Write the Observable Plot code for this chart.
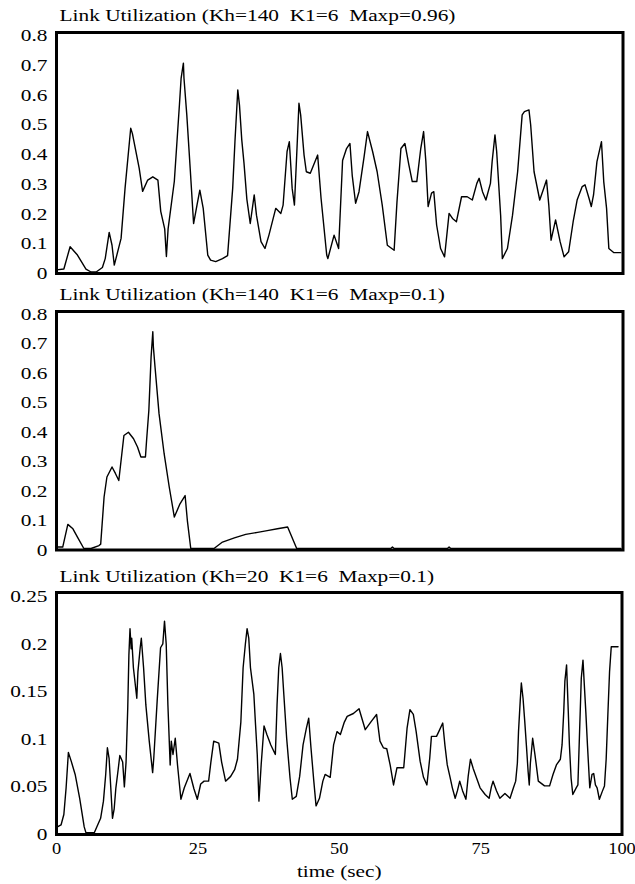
<!DOCTYPE html>
<html><head><meta charset="utf-8">
<script src="https://cdn.jsdelivr.net/npm/d3@7"></script>
<script src="https://cdn.jsdelivr.net/npm/@observablehq/plot@0.6"></script>
<style>
body{margin:0;background:#fff;}
svg{display:block;overflow:visible;}
svg text{white-space:pre;}
</style></head><body><div id="chart"></div>
<script>
const titles = [
  "Link Utilization (Kh=140  K1=6  Maxp=0.96)",
  "Link Utilization (Kh=140  K1=6  Maxp=0.1)",
  "Link Utilization (Kh=20  K1=6  Maxp=0.1)"
];
const xLabel = "time (sec)";
const xTicks = [0, 25, 50, 75, 100];
const yTicksA = [0, 0.1, 0.2, 0.3, 0.4, 0.5, 0.6, 0.7, 0.8];
const yTicksB = [0, 0.05, 0.1, 0.15, 0.2, 0.25];

const t1 = [0,1.3,2.4,3.7,5.2,6.1,7.0,8.1,8.6,9.3,9.8,10.2,11.4,12.1,13.1,13.4,14.6,15.2,16.1,17.0,17.9,18.4,19.1,19.4,19.7,20.8,21.7,22.0,22.4,22.5,23.0,23.6,24.2,24.8,25.3,25.9,26.7,27.2,28.1,29.3,30.2,31.1,31.5,32.0,32.3,32.7,33.1,33.6,34.2,34.9,35.3,36.1,36.8,37.5,38.7,39.6,40.0,40.7,41.1,41.6,42.0,42.4,42.8,43.1,43.7,44.1,44.8,46.1,46.7,47.7,47.9,49.0,49.8,50.5,51.2,51.8,52.2,52.8,53.4,54.3,54.9,55.8,56.6,57.5,58.4,59.6,60.1,60.8,61.5,62.2,62.8,63.6,64.3,64.8,65.2,65.6,66.2,66.6,67.1,67.8,68.5,69.3,69.9,70.6,71.5,72.5,73.4,74.2,74.6,75.2,75.8,76.6,76.9,77.4,77.7,78.4,78.7,79.6,80.5,81.4,82.2,82.6,83.4,83.7,84.3,85.3,86.0,86.5,86.9,87.3,88.1,88.9,89.6,90.4,91.2,91.9,92.8,93.3,94.0,94.4,94.8,95.4,96.2,96.6,97.1,97.5,98.4,99.6];
const u1 = [0.012,0.015,0.09,0.062,0.015,0.005,0.005,0.02,0.05,0.138,0.095,0.028,0.118,0.286,0.488,0.47,0.353,0.276,0.314,0.325,0.314,0.209,0.15,0.057,0.15,0.31,0.567,0.657,0.707,0.657,0.533,0.353,0.168,0.23,0.28,0.219,0.062,0.045,0.04,0.05,0.06,0.286,0.443,0.617,0.566,0.45,0.37,0.25,0.168,0.264,0.196,0.107,0.084,0.129,0.219,0.202,0.23,0.41,0.443,0.286,0.23,0.398,0.572,0.533,0.398,0.342,0.337,0.398,0.253,0.062,0.05,0.129,0.084,0.38,0.42,0.437,0.33,0.236,0.275,0.393,0.477,0.41,0.342,0.23,0.095,0.078,0.24,0.42,0.437,0.365,0.309,0.309,0.42,0.477,0.376,0.225,0.27,0.275,0.163,0.084,0.056,0.202,0.185,0.174,0.258,0.258,0.247,0.303,0.32,0.275,0.247,0.303,0.376,0.466,0.41,0.196,0.05,0.084,0.196,0.342,0.533,0.544,0.55,0.5,0.342,0.247,0.286,0.314,0.23,0.112,0.18,0.107,0.056,0.073,0.174,0.247,0.292,0.298,0.253,0.225,0.264,0.376,0.443,0.309,0.219,0.084,0.07,0.07];

const t2 = [0,1.1,2.0,2.9,3.7,4.8,6.1,7.5,7.8,8.4,8.9,9.8,10.4,11.0,11.9,12.7,13.6,14.3,14.9,15.7,15.9,16.3,16.7,17.0,17.1,17.4,18.1,19.0,19.9,20.8,21.8,22.7,23.1,23.7,27.8,29.3,31.4,33.4,35.5,37.2,39.0,40.8,42.4,59.0,59.3,59.6,69.0,69.3,69.6,99.6];
const u2 = [0.01,0.01,0.087,0.072,0.044,0.006,0.005,0.015,0.02,0.18,0.248,0.282,0.26,0.236,0.389,0.40,0.378,0.35,0.316,0.316,0.372,0.474,0.656,0.741,0.69,0.62,0.463,0.327,0.214,0.112,0.157,0.185,0.1,0.005,0.005,0.027,0.041,0.053,0.06,0.066,0.072,0.078,0.005,0.005,0.01,0.005,0.005,0.01,0.005,0.005];

const t3 = [0,0.8,1.3,1.7,2.1,2.6,3.3,4.1,4.9,5.2,6.7,7.2,7.8,8.3,8.7,9.0,9.3,9.6,9.9,10.2,10.5,10.9,11.2,11.7,12.0,12.3,12.6,12.8,13.0,13.2,13.3,13.6,14.2,14.4,14.8,15.0,15.4,15.8,16.4,17.0,17.2,17.8,18.4,18.8,19.1,19.4,19.7,20.1,20.3,20.6,21.0,21.4,22.0,22.6,23.6,24.3,24.9,25.5,26.1,26.9,27.3,27.8,28.7,29.2,29.9,30.8,31.5,32.0,32.6,33.0,33.4,33.7,34.0,34.3,34.9,35.2,35.5,35.8,36.2,36.7,37.2,37.9,38.7,39.0,39.3,39.6,39.9,40.2,40.7,41.3,41.7,42.4,43.0,43.6,44.2,44.6,45.0,45.5,45.9,46.5,47.1,47.5,48.4,49.0,49.6,50.2,50.9,51.4,52.5,53.5,54.6,55.7,56.6,57.2,57.8,58.4,59.0,59.6,60.2,61.4,62.0,62.5,63.1,63.6,64.3,64.9,65.5,66.0,66.3,67.2,67.6,68.3,68.7,69.1,69.6,70.0,70.5,70.9,71.3,71.8,72.4,72.8,73.2,73.7,74.3,74.9,75.8,76.5,76.9,77.2,77.8,78.4,79.3,80.2,80.8,81.2,81.5,81.7,82.0,82.2,82.5,82.8,83.1,83.4,83.6,83.8,84.2,84.6,84.8,85.2,86.3,87.2,87.8,88.4,89.1,89.4,89.7,89.9,90.2,90.5,90.7,91.0,91.3,91.9,92.2,92.5,92.8,93.1,93.3,93.6,93.9,94.3,94.7,95.0,95.3,95.6,96.0,96.5,96.9,97.2,97.5,97.8,98.1,99.3];
const u3 = [0.0075,0.01,0.021,0.049,0.086,0.077,0.063,0.038,0.008,0.002,0.002,0.009,0.017,0.035,0.063,0.091,0.08,0.049,0.017,0.027,0.049,0.068,0.083,0.076,0.05,0.076,0.133,0.188,0.216,0.195,0.206,0.175,0.143,0.171,0.196,0.206,0.175,0.136,0.098,0.065,0.08,0.14,0.196,0.2,0.224,0.2,0.136,0.073,0.098,0.084,0.101,0.073,0.037,0.049,0.064,0.048,0.037,0.053,0.056,0.056,0.076,0.098,0.096,0.076,0.056,0.061,0.068,0.079,0.118,0.175,0.2,0.216,0.206,0.175,0.147,0.115,0.084,0.035,0.074,0.114,0.105,0.094,0.084,0.136,0.175,0.19,0.175,0.147,0.101,0.059,0.037,0.04,0.061,0.094,0.112,0.122,0.091,0.056,0.03,0.038,0.056,0.063,0.06,0.094,0.108,0.105,0.118,0.124,0.127,0.132,0.11,0.119,0.126,0.098,0.091,0.09,0.073,0.052,0.07,0.07,0.112,0.131,0.126,0.108,0.077,0.06,0.052,0.08,0.103,0.103,0.108,0.117,0.093,0.073,0.06,0.049,0.038,0.046,0.056,0.046,0.037,0.061,0.079,0.069,0.059,0.049,0.042,0.038,0.05,0.056,0.046,0.038,0.043,0.038,0.049,0.056,0.075,0.108,0.14,0.159,0.143,0.119,0.093,0.066,0.052,0.075,0.101,0.084,0.075,0.056,0.051,0.051,0.063,0.073,0.079,0.094,0.129,0.161,0.178,0.129,0.094,0.059,0.042,0.049,0.052,0.108,0.164,0.183,0.161,0.129,0.093,0.049,0.063,0.064,0.052,0.049,0.037,0.045,0.051,0.079,0.126,0.171,0.197,0.197];

const FONT = "'Liberation Serif', 'Times New Roman', serif";
const SX = 1.22;

function panel({title, t, u, yMax, yTicks, height, marginTop, marginBottom, marginRight, titleDy, xAxis}) {
  const marks = [
    Plot.line({length: t.length}, {x: t, y: u, stroke: "black", strokeWidth: 1.4}),
    Plot.frame({stroke: "black", strokeWidth: 3}),
    Plot.axisY({ticks: yTicks, tickSize: 0, tickPadding: 9, tickFormat: d => String(d), label: null}),
    Plot.text([title], {frameAnchor: "top-left", dx: 3, dy: titleDy, lineAnchor: "bottom", textAnchor: "start", fill: "black"})
  ];
  if (xAxis) {
    marks.push(Plot.axisX({ticks: xTicks, tickSize: 0, tickPadding: 7, tickFormat: d => String(d), label: null}));
    marks.push(Plot.text([xLabel], {frameAnchor: "bottom", dy: 42, lineAnchor: "bottom", fill: "black"}));
  }
  const svg = Plot.plot({
    width: 635, height, marginLeft: 56, marginRight, marginTop, marginBottom,
    x: {domain: [0, 100], axis: xAxis ? undefined : null},
    y: {domain: [0, yMax]},
    style: {fontFamily: FONT, fontSize: "17.5px", color: "black", background: "transparent", overflow: "visible"},
    marks
  });
  svg.querySelectorAll("text").forEach(el => {
    const isX = el.closest('g[aria-label="x-axis tick label"]');
    const tr = el.getAttribute("transform") || "";
    el.setAttribute("transform", tr + ` scale(${isX ? 1.05 : SX},1)`);
  });
  return svg;
}

const root = document.getElementById("chart");
root.appendChild(panel({title: titles[0], t: t1, u: u1, yMax: 0.81, yTicks: yTicksA, height: 280, marginTop: 32, marginBottom: 7, marginRight: 12.5, titleDy: -12, xAxis: false}));
root.appendChild(panel({title: titles[1], t: t2, u: u2, yMax: 0.81, yTicks: yTicksA, height: 280, marginTop: 31, marginBottom: 10.5, marginRight: 12.5, titleDy: -12, xAxis: false}));
root.appendChild(panel({title: titles[2], t: t3, u: u3, yMax: 0.254, yTicks: yTicksB, height: 324, marginTop: 32, marginBottom: 50, marginRight: 13.5, titleDy: -11, xAxis: true}));
</script></body></html>
